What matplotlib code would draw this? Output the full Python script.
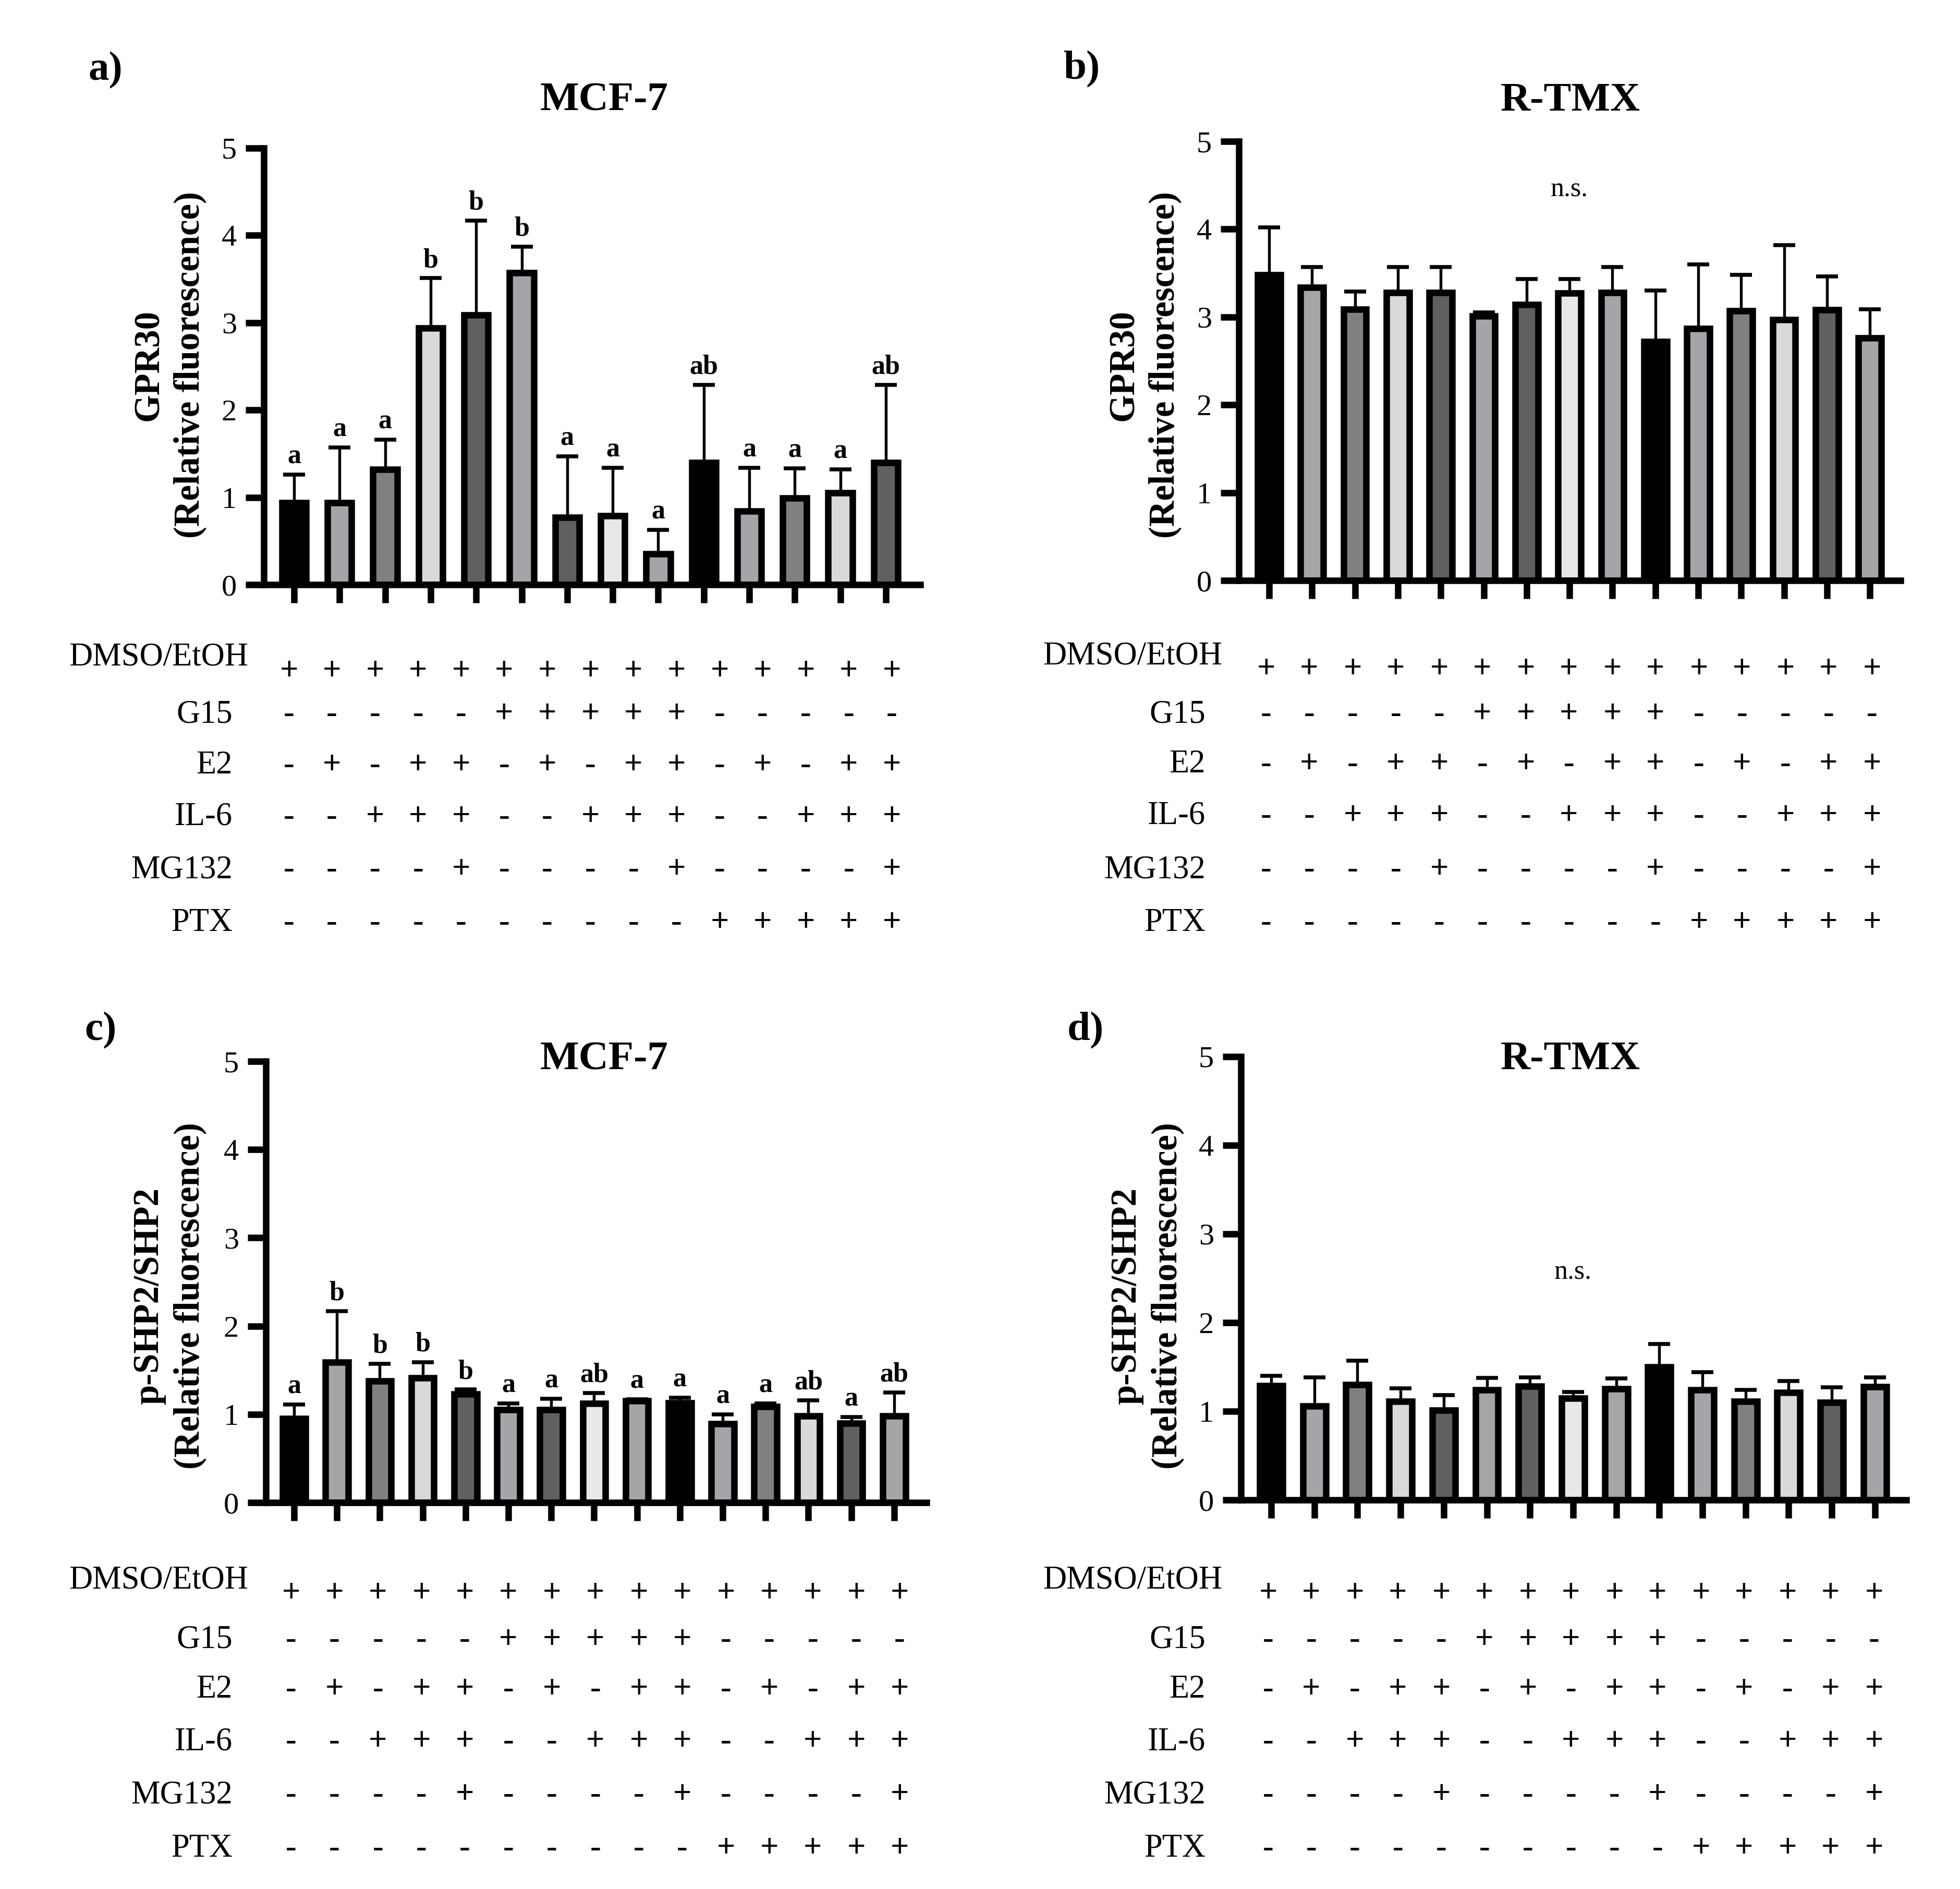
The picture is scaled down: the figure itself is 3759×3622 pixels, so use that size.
import numpy as np
import matplotlib
matplotlib.use("Agg")
import matplotlib.pyplot as plt

W, H = 3759, 3622
DPI = 300

plt.rcParams['font.family'] = ['Liberation Serif', 'DejaVu Serif']

# treatment grid (15 columns, same in every panel)
treatments = ["DMSO/EtOH", "G15", "E2", "IL-6", "MG132", "PTX"]
signs = [
    "+++++++++++++++",
    "-----+++++-----",
    "-+-++-+-++-+-++",
    "--+++--+++--+++",
    "----+----+----+",
    "----------+++++",
]

bar_colors = ['#000000', '#a5a5a9', '#808080', '#d9d9d9', '#606060',
              '#a5a5a9', '#606060', '#e8e8e8', '#a5a5a9', '#000000',
              '#a5a5a9', '#808080', '#d9d9d9', '#606060', '#a5a5a9']

# a) GPR30, MCF-7 (14 bars)
a_mean = [0.94, 0.94, 1.32, 2.94, 3.09, 3.57, 0.77, 0.79, 0.35, 1.40, 0.84, 0.99, 1.05, 1.40]
a_sd = [0.32, 0.63, 0.34, 0.57, 1.08, 0.30, 0.70, 0.55, 0.28, 0.89, 0.50, 0.34, 0.27, 0.89]
a_letters = ['a', 'a', 'a', 'b', 'b', 'b', 'a', 'a', 'a', 'ab', 'a', 'a', 'a', 'ab']

# b) GPR30, R-TMX
b_mean = [3.48, 3.34, 3.09, 3.28, 3.28, 3.01, 3.14, 3.27, 3.28, 2.72, 2.87, 3.07, 2.97, 3.08, 2.76]
b_sd = [0.54, 0.23, 0.20, 0.29, 0.29, 0.04, 0.29, 0.16, 0.29, 0.58, 0.73, 0.41, 0.85, 0.38, 0.33]

# c) p-SHP2/SHP2, MCF-7
c_mean = [0.95, 1.59, 1.38, 1.41, 1.23, 1.05, 1.05, 1.12, 1.15, 1.13, 0.89, 1.09, 0.98, 0.90, 0.98]
c_sd = [0.16, 0.58, 0.19, 0.18, 0.05, 0.075, 0.125, 0.12, 0.02, 0.06, 0.11, 0.035, 0.18, 0.07, 0.27]
c_letters = ['a', 'b', 'b', 'b', 'b', 'a', 'a', 'ab', 'a', 'a', 'a', 'a', 'ab', 'a', 'ab']

# d) p-SHP2/SHP2, R-TMX
d_mean = [1.29, 1.06, 1.30, 1.11, 1.01, 1.24, 1.28, 1.15, 1.255, 1.50, 1.24, 1.11, 1.21, 1.10, 1.275]
d_sd = [0.11, 0.32, 0.27, 0.15, 0.17, 0.135, 0.10, 0.07, 0.115, 0.26, 0.20, 0.13, 0.13, 0.17, 0.105]


def fx(x):
    return x / W


def fy(y):
    return 1 - y / H


fig = plt.figure(figsize=(W / DPI, H / DPI), dpi=DPI)

# layout in pixels of the final image
panels = [
    dict(tag='a)', title='MCF-7', ylab='GPR30\n(Relative fluorescence)',
         mean=a_mean, sd=a_sd, letters=a_letters, ns=None,
         box=(506, 1765, 1121, 284), x0=564, dx=87.3,
         tagpos=(202, 135), titlepos=(1159, 193), ylabpos=(325, 700),
         cols=(554, 82.6), rows=[1288, 1370, 1468, 1567, 1668, 1770], row0=1260,
         labx=(476, 446)),
    dict(tag='b)', title='R-TMX', ylab='GPR30\n(Relative fluorescence)',
         mean=b_mean, sd=b_sd, letters=None, ns=4.45,
         box=(2376, 3645, 1113, 271), x0=2434, dx=82.3,
         tagpos=(2075, 133), titlepos=(3012, 193), ylabpos=(2195, 700),
         cols=(2428, 83.0), rows=[1284, 1370, 1466, 1565, 1668, 1770], row0=1258,
         labx=(2344, 2312)),
    dict(tag='c)', title='MCF-7', ylab='p-SHP2/SHP2\n(Relative fluorescence)',
         mean=c_mean, sd=c_sd, letters=c_letters, ns=None,
         box=(510, 1777, 2881, 2035), x0=564, dx=82.2,
         tagpos=(193, 1976), titlepos=(1159, 2032), ylabpos=(325, 2485),
         cols=(558, 83.4), rows=[3056, 3145, 3240, 3340, 3442, 3545], row0=3030,
         labx=(476, 446)),
    dict(tag='d)', title='R-TMX', ylab='p-SHP2/SHP2\n(Relative fluorescence)',
         mean=d_mean, sd=d_sd, letters=None, ns=2.57,
         box=(2380, 3656, 2876, 2026), x0=2438, dx=82.7,
         tagpos=(2082, 1976), titlepos=(3012, 2032), ylabpos=(2200, 2485),
         cols=(2432, 83.0), rows=[3056, 3145, 3240, 3340, 3442, 3545], row0=3030,
         labx=(2344, 2312)),
]

for p in panels:
    left, right, bottom, top = p['box']
    ax = fig.add_axes([fx(left), fy(bottom), fx(right) - fx(left), fy(top) - fy(bottom)])
    n = len(p['mean'])
    x = np.arange(n)
    mean = np.array(p['mean'])
    sd = np.array(p['sd'])
    ax.errorbar(x, mean, yerr=[np.zeros(n), sd], fmt='none', ecolor='black',
                elinewidth=1.3, capsize=5, capthick=1.8, zorder=1)
    ax.bar(x, mean, width=0.53, color=bar_colors[:n], edgecolor='black',
           linewidth=3, zorder=2)

    ax.set_xlim((left - p['x0']) / p['dx'], (right - p['x0']) / p['dx'])
    ax.set_ylim(0, 5)
    ax.set_yticks([0, 1, 2, 3, 4, 5])
    ax.set_xticks(x)
    ax.set_xticklabels([])
    for s in ['top', 'right']:
        ax.spines[s].set_visible(False)
    for s in ['left', 'bottom']:
        ax.spines[s].set_linewidth(3)
    ax.tick_params(axis='both', width=3, length=8.5, labelsize=14, pad=4)
    ax.patch.set_alpha(0)

    if p['letters']:
        for xi, m, e, lab in zip(x, mean, sd, p['letters']):
            ax.annotate(lab, (xi, m + e), xytext=(0, 2.5), textcoords='offset points',
                        ha='center', va='bottom', fontsize=12.5, fontweight='bold')
    if p['ns'] is not None:
        ax.text(7, p['ns'], 'n.s.', ha='center', va='center', fontsize=12.5)

    fig.text(fx(p['tagpos'][0]), fy(p['tagpos'][1]), p['tag'], ha='center', va='center',
             fontsize=19, fontweight='bold')
    fig.text(fx(p['titlepos'][0]), fy(p['titlepos'][1]), p['title'], ha='center', va='center',
             fontsize=19, fontweight='bold')
    fig.text(fx(p['ylabpos'][0]), fy(p['ylabpos'][1]), p['ylab'], ha='center', va='center',
             rotation=90, fontsize=16.5, fontweight='bold', linespacing=1.3,
             multialignment='center')

    # treatment table
    c0, cdx = p['cols']
    for r, (name, row) in enumerate(zip(treatments, signs)):
        ry = p['rows'][r]
        ly = p['row0'] if r == 0 else ry
        lx = p['labx'][0] if r == 0 else p['labx'][1]
        fig.text(fx(lx), fy(ly), name, ha='right', va='center', fontsize=15)
        for k, ch in enumerate(row):
            fig.text(fx(c0 + k * cdx), fy(ry), ch, ha='center', va='center',
                     fontsize=15, fontweight='bold')

fig.savefig('out.png', dpi=DPI)
